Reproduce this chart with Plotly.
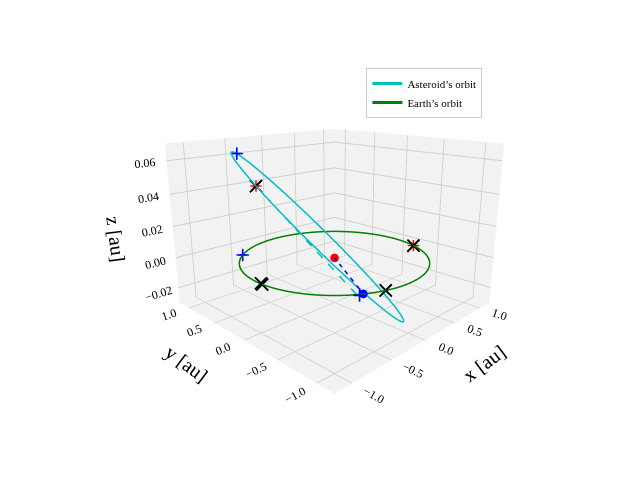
import numpy as np
import plotly.graph_objects as go

# Earth orbit (unit circle in ecliptic plane)
earth_radius = 1.0
# Asteroid orbit: ellipse centre, semi-major and semi-minor vectors (au)
ast_center = [-0.27, -0.03, 0.0175]
ast_major = [-0.45, 0.78, 0.0475]
ast_minor = [0.24, 0.2, 0.0]

# Key points
sun = [0.0, 0.0, 0.0]
earth_pos = [-0.5, -0.86, 0.0]
blue_plus = {"x": [-0.68, -0.64, -0.55], "y": [0.72, 0.77, -0.86], "z": [0.064, 0.0, 0.0]}
red_plus = {"x": [-0.62, 0.94], "y": [0.5, -0.34], "z": [0.046, 0.0]}
black_x = {"x": [-0.62, 0.94, -1.0, -0.99, -0.3], "y": [0.5, -0.34, -0.05, -0.02, -0.95], "z": [0.046, 0.0, 0.0, 0.0, 0.0]}
dash_cyan = {"x": [-0.62, -0.48], "y": [0.5, -0.84], "z": [0.046, -0.005]}


def dashed(xs, ys, zs, n=10):
    f = np.linspace(0, 1, 2 * n + 1)
    px = xs[0] + (xs[1] - xs[0]) * f
    py = ys[0] + (ys[1] - ys[0]) * f
    pz = zs[0] + (zs[1] - zs[0]) * f
    ox, oy, oz = [], [], []
    for i in range(0, 2 * n, 2):
        ox += [px[i], px[i + 1], None]
        oy += [py[i], py[i + 1], None]
        oz += [pz[i], pz[i + 1], None]
    return ox, oy, oz


t = np.linspace(0, 2 * np.pi, 300)
ex, ey, ez = earth_radius * np.cos(t), earth_radius * np.sin(t), 0 * t
c, a, b = np.array(ast_center), np.array(ast_major), np.array(ast_minor)
ast = c[:, None] + a[:, None] * np.cos(t) + b[:, None] * np.sin(t)

font = "Liberation Serif"
fig = go.Figure()
fig.add_trace(go.Scatter3d(x=ast[0], y=ast[1], z=ast[2], mode="lines",
                           line=dict(color="#00bfbf", width=3), name="Asteroid’s orbit"))
fig.add_trace(go.Scatter3d(x=ex, y=ey, z=ez, mode="lines",
                           line=dict(color="green", width=3), name="Earth’s orbit"))
dx, dy, dz = dashed(dash_cyan["x"], dash_cyan["y"], dash_cyan["z"], 10)
fig.add_trace(go.Scatter3d(x=dx, y=dy, z=dz, mode="lines",
                           line=dict(color="#00bfbf", width=3), showlegend=False))
dx, dy, dz = dashed([sun[0], earth_pos[0]], [sun[1], earth_pos[1]], [sun[2], earth_pos[2]], 5)
fig.add_trace(go.Scatter3d(x=dx, y=dy, z=dz, mode="lines",
                           line=dict(color="blue", width=3), showlegend=False))
fig.add_trace(go.Scatter3d(x=[sun[0]], y=[sun[1]], z=[sun[2]], mode="markers",
                           marker=dict(color="red", size=5), showlegend=False))
fig.add_trace(go.Scatter3d(x=[earth_pos[0]], y=[earth_pos[1]], z=[earth_pos[2]], mode="markers",
                           marker=dict(color="blue", size=5), showlegend=False))
fig.add_trace(go.Scatter3d(x=blue_plus["x"], y=blue_plus["y"], z=blue_plus["z"], mode="text",
                           text=["+"] * 3, textposition="middle center",
                           textfont=dict(color="blue", size=20, family="DejaVu Sans"), showlegend=False))
fig.add_trace(go.Scatter3d(x=red_plus["x"], y=red_plus["y"], z=red_plus["z"], mode="text",
                           text=["+"] * 2, textposition="middle center",
                           textfont=dict(color="red", size=18, family="DejaVu Sans"), showlegend=False))
fig.add_trace(go.Scatter3d(x=black_x["x"], y=black_x["y"], z=black_x["z"], mode="text",
                           text=["×"] * 5, textposition="middle center",
                           textfont=dict(color="black", size=24, family="DejaVu Sans"), showlegend=False))

ax = dict(backgroundcolor="#f2f2f2", showbackground=True, gridcolor="#d0d0d0",
          zeroline=False, showspikes=False, tickfont=dict(size=12, family=font, color="black"))
fig.update_layout(
    width=640, height=480, paper_bgcolor="white", font=dict(family=font, color="black"),
    margin=dict(l=0, r=0, t=0, b=0),
    scene=dict(
        xaxis=dict(ax, title=dict(text="x [au]", font=dict(size=20)), range=[-1.2, 1.2],
                   tickvals=[-1, -0.5, 0, 0.5, 1], ticktext=["−1.0", "−0.5", "0.0", "0.5", "1.0"]),
        yaxis=dict(ax, title=dict(text="y [au]", font=dict(size=20)), range=[-1.2, 1.2],
                   tickvals=[-1, -0.5, 0, 0.5, 1], ticktext=["−1.0", "−0.5", "0.0", "0.5", "1.0"]),
        zaxis=dict(ax, title=dict(text="z [au]", font=dict(size=20)), range=[-0.03, 0.07],
                   tickvals=[-0.02, 0, 0.02, 0.04, 0.06], ticktext=["−0.02", "0.00", "0.02", "0.04", "0.06"]),
        aspectmode="manual", aspectratio=dict(x=1, y=1, z=0.72),
        camera=dict(eye=dict(x=-1.5, y=-1.5, z=0.6), center=dict(x=0, y=0, z=-0.02)),
        domain=dict(x=[0.12, 0.9], y=[0.1, 0.97]),
    ),
    legend=dict(x=0.56, y=0.875, xanchor="left", yanchor="top", bgcolor="rgba(255,255,255,0.8)",
                bordercolor="#cccccc", borderwidth=1, font=dict(size=11, family=font),
                tracegroupgap=0, itemwidth=30),
)
fig.write_html("out.html")
